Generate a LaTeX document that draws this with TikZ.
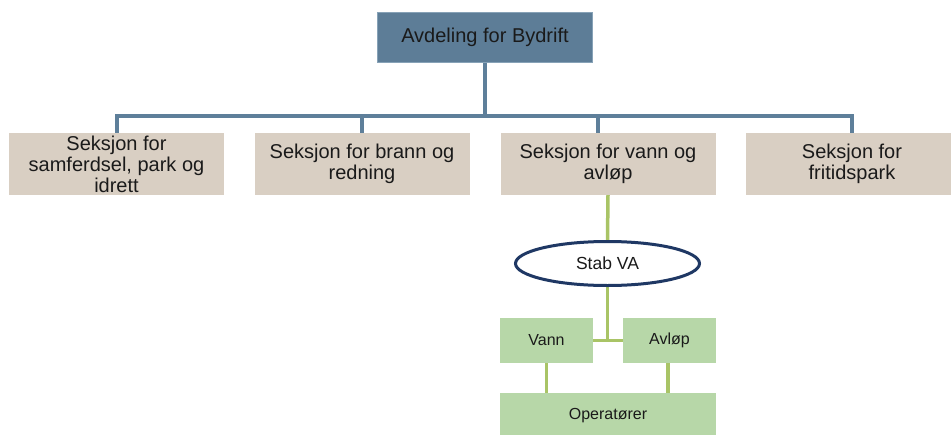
\documentclass[tikz,border=0pt]{standalone}
\usepackage{fontspec}
\setmainfont{Liberation Sans}
\usetikzlibrary{shapes.geometric,backgrounds}
\definecolor{topblue}{HTML}{5D7D97}
\definecolor{topedge}{HTML}{87A2B7}
\definecolor{busblue}{HTML}{5E7F9A}
\definecolor{tan}{HTML}{D9CFC3}
\definecolor{vagreen}{HTML}{B7D7A8}
\definecolor{valine}{HTML}{A9C466}
\definecolor{navy}{HTML}{1F3864}
\definecolor{txt}{HTML}{1A1A1A}
\tikzset{
  topbox/.style={rectangle, fill=topblue, draw=topedge, line width=1pt, minimum width=215pt, minimum height=50pt, inner sep=0pt, text=txt, font=\fontsize{20}{22}\selectfont},
  secbox/.style={rectangle, fill=tan, minimum width=215pt, minimum height=62pt, inner sep=0pt, align=center, text=txt, font=\fontsize{20}{21}\selectfont},
  gbox/.style={rectangle, fill=vagreen, minimum height=45pt, inner sep=0pt, text=txt, font=\fontsize{16}{18}\selectfont},
  stabnode/.style={ellipse, draw=navy, line width=3pt, fill=white, minimum width=184pt, minimum height=44pt, inner sep=0pt, text=txt, font=\fontsize{17.5}{19}\selectfont},
  busline/.style={draw=busblue, line width=4pt},
  valine/.style={draw=valine, line width=3.5pt}
}
\begin{document}
\begin{tikzpicture}[x=1pt,y=-1pt]
\useasboundingbox (0,0) rectangle (951,434);
\node[topbox] (top) at (485,37.5) {Avdeling for Bydrift};
\node[secbox] (s1) at (116.5,164) {Seksjon for\\samferdsel, park og\\idrett};
\node[secbox] (s2) at (362,164) {Seksjon for brann og\\redning};
\node[secbox] (s3) at (608,164) {Seksjon for vann og\\avløp};
\node[secbox, minimum width=212pt] (s4) at (852,164) {Seksjon for\\fritidspark};
\node[stabnode] (stab) at (607.5,263.5) {Stab VA};
\node[gbox, minimum width=93pt] (vann) at (546.5,340.5) {Vann};
\node[gbox, minimum width=93pt] (avlop) at (669.5,340.5) {Avløp};
\node[gbox, minimum width=216pt] (oper) at (608,415.5) {Operatører};
\begin{scope}[on background layer]
  \coordinate (bus) at (485,116);
  \draw[busline] (top.south) -- (bus) -| (s1.north);
  \draw[busline] (bus) -| (s2.north);
  \draw[busline] (bus) -| ([xshift=-10pt]s3.north);
  \draw[busline] (bus) -| (s4.north);
  \draw[valine] (s3.south) -- (stab.north);
  \draw[valine] (stab.south) -- (stab.south |- vann.east);
  \draw[valine] (vann.east) -- (avlop.west);
  \draw[valine] (vann.south) -- (vann.south |- oper.north);
  \draw[valine] ([xshift=-1.5pt]avlop.south) -- ([xshift=-1.5pt]avlop.south |- oper.north);
\end{scope}
\end{tikzpicture}
\end{document}
